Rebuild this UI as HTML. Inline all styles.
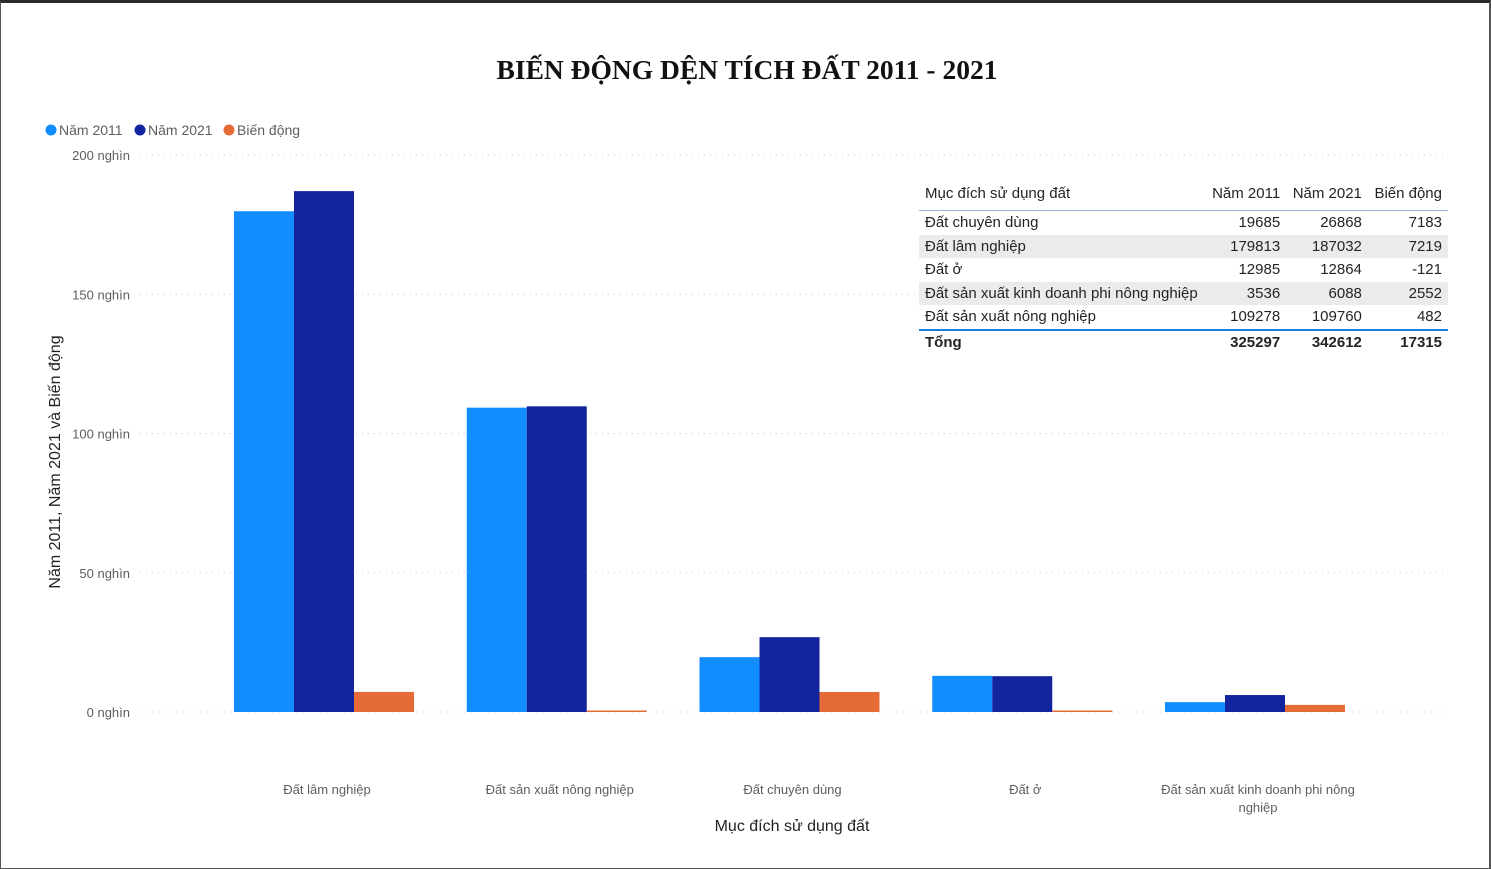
<!DOCTYPE html>
<html><head><meta charset="utf-8"><style>
body{margin:0;width:1491px;height:869px;background:#fff;font-family:"Liberation Sans",sans-serif;overflow:hidden;position:relative}
#frame{position:absolute;left:0;top:0;width:1488px;height:865px;border-top:3px solid #2b2b2b;border-left:1px solid #555;border-right:2px solid #555;border-bottom:1px solid #555}
table{position:absolute;left:919px;top:176px;width:529px;border-collapse:collapse;font-size:15px;color:#252423}
td,th{padding:0 6px;height:23.5px;font-weight:normal;white-space:nowrap}
th{height:34px;text-align:right;vertical-align:middle}
th:first-child,td:first-child{text-align:left}
td{text-align:right}
tr.g td{background:#ebebeb}
thead tr{border-bottom:1px solid #9bb9dc}
tr.last{border-bottom:2px solid #1a7fd9}
tr.tot td{font-weight:bold}
</style></head><body>
<div id="frame"></div>
<svg id="c" width="1491" height="869" style="position:absolute;left:0;top:0"></svg>
<table>
<thead><tr><th>Mục đích sử dụng đất</th><th>Năm 2011</th><th>Năm 2021</th><th>Biến động</th></tr></thead>
<tbody>
<tr><td>Đất chuyên dùng</td><td>19685</td><td>26868</td><td>7183</td></tr>
<tr class="g"><td>Đất lâm nghiệp</td><td>179813</td><td>187032</td><td>7219</td></tr>
<tr><td>Đất ở</td><td>12985</td><td>12864</td><td>-121</td></tr>
<tr class="g"><td>Đất sản xuất kinh doanh phi nông nghiệp</td><td>3536</td><td>6088</td><td>2552</td></tr>
<tr class="last"><td>Đất sản xuất nông nghiệp</td><td>109278</td><td>109760</td><td>482</td></tr>
<tr class="tot"><td>Tổng</td><td>325297</td><td>342612</td><td>17315</td></tr>
</tbody></table>
<script>
const categories=["Đất lâm nghiệp","Đất sản xuất nông nghiệp","Đất chuyên dùng","Đất ở","Đất sản xuất kinh doanh phi nông nghiệp"];
const y2011=[179813,109278,19685,12985,3536];
const y2021=[187032,109760,26868,12864,6088];
const bienDong=[7219,482,7183,-121,2552];
const ticks=[0,50000,100000,150000,200000];
const tickLabels=["0 nghìn","50 nghìn","100 nghìn","150 nghìn","200 nghìn"];
const colors=["#118DFF","#12239E","#E66C37"];
const svg=document.getElementById('c');const NS="http://www.w3.org/2000/svg";
function el(t,a,txt){const e=document.createElementNS(NS,t);for(const k in a)e.setAttribute(k,a[k]);if(txt!=null)e.textContent=txt;svg.appendChild(e);return e;}
const y0=712,y1=155,yMax=200000;
const Y=v=>y0-(v/yMax)*(y0-y1);
const X=i=>324+i*232.75;
let t=el('text',{x:747,y:79,'text-anchor':'middle','font-family':'Liberation Serif, serif','font-weight':'bold','font-size':27.5,fill:'#111'},'BIẾN ĐỘNG DỆN TÍCH ĐẤT 2011 - 2021');

ticks.forEach((v,i)=>{
 const g=el('line',{x1:140,x2:1446,y1:Y(v),y2:Y(v),stroke:'#c8c8c8','stroke-dasharray':'1 5'});
 
 const l=el('text',{x:130,y:Y(v)+5,'text-anchor':'end','font-size':13,fill:'#605e5c'},tickLabels[i]);
 
});
const series=[y2011,y2021,bienDong];
categories.forEach((c,i)=>{
 series.forEach((s,j)=>{
  const v=Math.abs(s[i]);const h=Math.max(1.5,(v/yMax)*(y0-y1));
  const r=el('rect',{x:X(i)-90+j*60,y:y0-h,width:60,height:h,fill:colors[j]});
  
 });
 const words=c==="Đất sản xuất kinh doanh phi nông nghiệp"?["Đất sản xuất kinh doanh phi nông","nghiệp"]:[c];
 words.forEach((w,k)=>{
  const l=el('text',{x:X(i)+3,y:794+k*18,'text-anchor':'middle','font-size':13,fill:'#605e5c'},w);
  
 });
});
let xt=el('text',{x:792,y:831,'text-anchor':'middle','font-size':16,fill:'#252423'},'Mục đích sử dụng đất');

let yt=el('text',{x:0,y:0,'text-anchor':'middle','font-size':16,fill:'#252423',transform:'translate(60,462) rotate(-90)'},'Năm 2011, Năm 2021 và Biến động');

const leg=["Năm 2011","Năm 2021","Biến động"],lx=[51,140,229];
leg.forEach((n,i)=>{
 const c=el('circle',{cx:lx[i],cy:130,r:5.5,fill:colors[i]});
 
 const l=el('text',{x:lx[i]+8,y:135,'font-size':14,fill:'#605e5c'},n);
 
});
</script>
</body></html>
